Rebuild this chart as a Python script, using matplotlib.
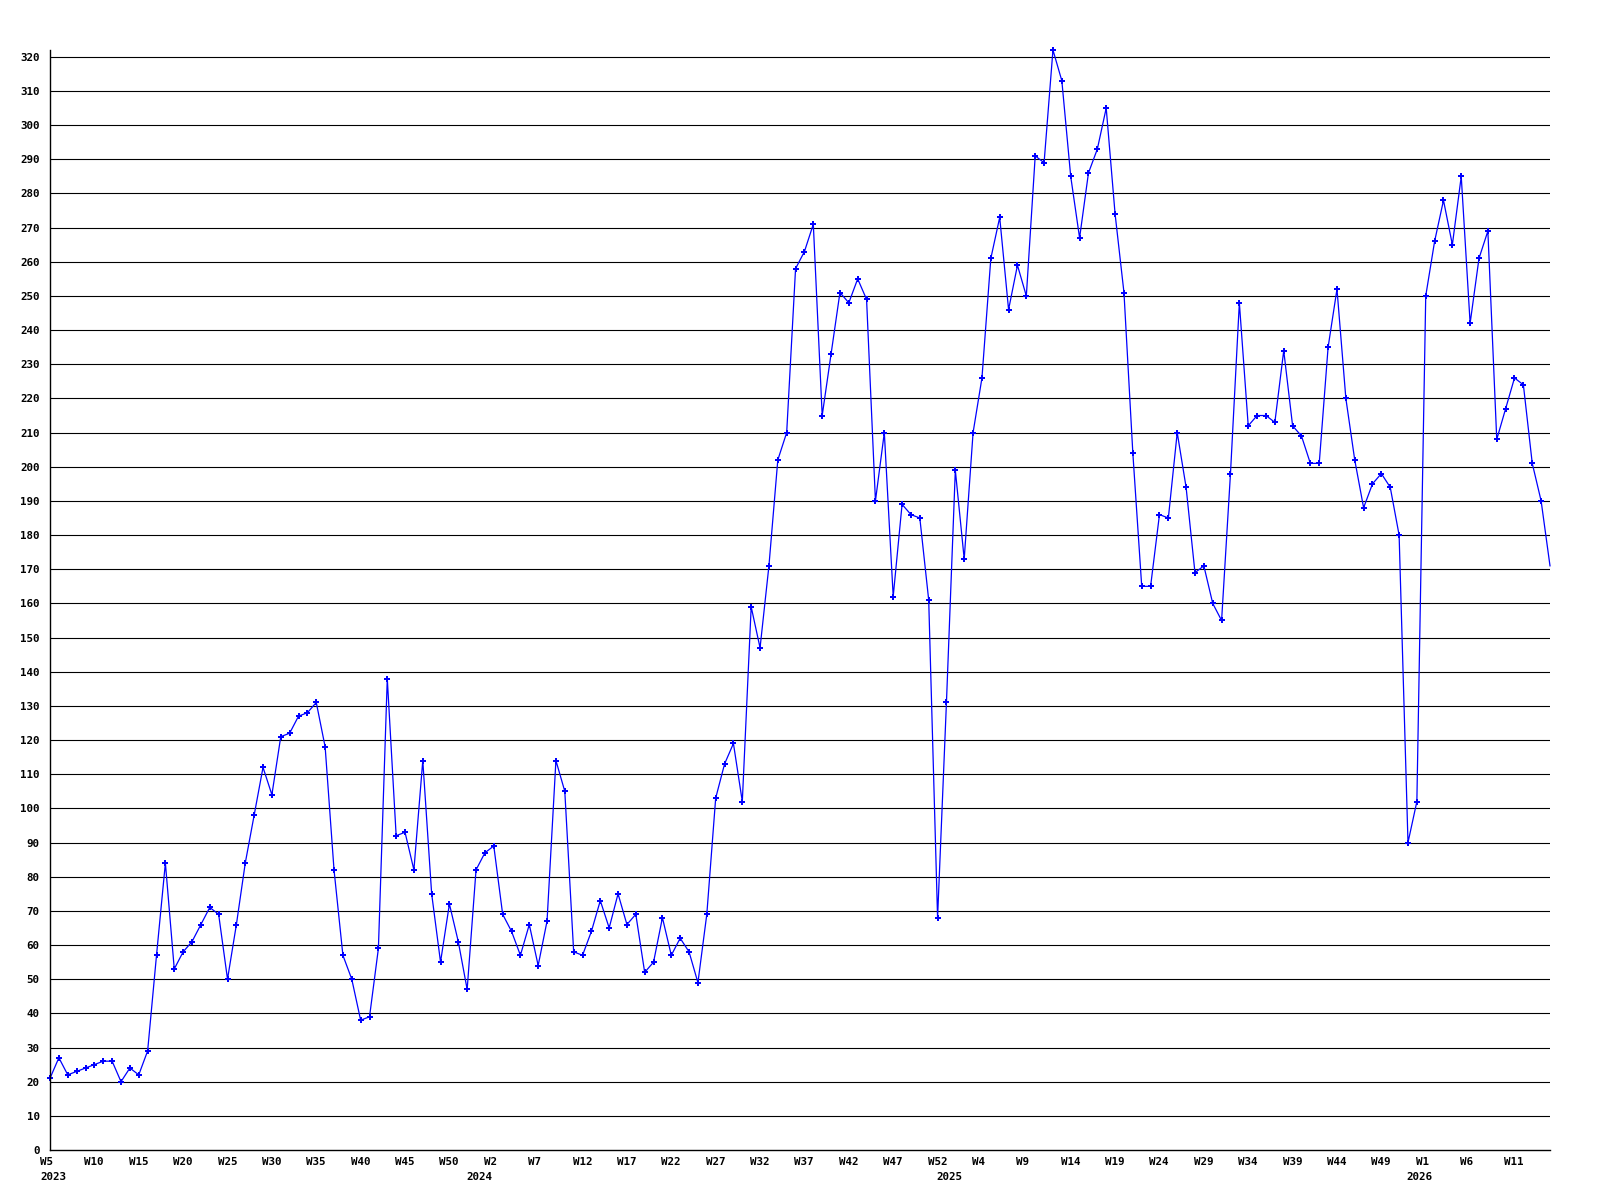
import matplotlib
matplotlib.use("Agg")
import matplotlib.pyplot as plt
import matplotlib.transforms as mtransforms
import numpy as np

# ---- data (weekly values, first point = 2023 W5) ----
values_2023a = [21, 27, 22, 23, 24, 25, 26, 26, 20, 24, 22, 29, 57, 84, 53, 58, 61, 66, 71, 69,
                50, 66, 84, 98, 112, 104, 121, 122, 127, 128]
values_2023b = [131, 118, 82, 57, 50, 38, 39, 59, 138, 92, 93, 82, 114, 75, 55, 72, 61, 47,
                82, 87, 89, 69, 64, 57, 66, 54, 67, 114]
values_2024a = [105, 58, 57, 64, 73, 65, 75, 66, 69, 52, 55, 68, 57, 62, 58, 49, 69, 103, 113, 119, 102]
values_2024b = [159, 147, 171, 202, 210, 258, 263, 271, 215, 233, 251, 248, 255, 249, 190, 210,
                162, 189, 186, 185, 161]
values_2025a = [68, 131, 199, 173, 210, 226, 261, 273, 246, 259, 250]
values_2025b = [291, 289, 322, 313, 285, 267, 286, 293, 305, 274, 251, 204, 165, 165, 186, 185,
                210, 194, 169, 171, 160, 155, 198]
values_2025c = [248, 212, 215, 215, 213, 234, 212, 209, 201, 201, 235, 252, 220, 202, 188, 195,
                198, 194, 180]
values_2026 = [90, 102, 250, 266, 278, 265, 285, 242, 261, 269, 208, 217, 226, 224, 201, 190, 171]

values = (values_2023a + values_2023b + values_2024a + values_2024b + values_2025a
          + values_2025b + values_2025c + values_2026)

week_labels = ["W5", "W10", "W15", "W20", "W25", "W30", "W35", "W40", "W45", "W50",
               "W2", "W7", "W12", "W17", "W22", "W27", "W32", "W37", "W42", "W47", "W52",
               "W4", "W9", "W14", "W19", "W24", "W29", "W34", "W39", "W44", "W49",
               "W1", "W6", "W11"]
label_every = 5
year_labels = ["2023", "2024", "2025", "2026"]
year_first_point = [0, 48, 101, 154]

y_ticks = list(range(0, 330, 10))

# ---- figure ----
W, H, DPI = 1600, 1200, 100
fig = plt.figure(figsize=(W / DPI, H / DPI), dpi=DPI, facecolor="white")
ax = fig.add_axes([50 / W, 50 / H, 1500 / W, 1100 / H])
ax.set_facecolor("white")

x = np.arange(len(values))
ax.set_xlim(0, len(values) - 1)
ax.set_ylim(0, 322)

# horizontal grid lines
for t in y_ticks[1:]:
    ax.axhline(t, color="black", lw=0.8, zorder=1)

ax.plot(x, values, color="#0000ff", lw=0.9, marker="P", ms=5, mew=0,
        markevery=list(range(len(values) - 1)), zorder=3, clip_on=False)

for s in ["top", "right"]:
    ax.spines[s].set_visible(False)
for s in ["left", "bottom"]:
    ax.spines[s].set_color("black")
    ax.spines[s].set_linewidth(1.0)
    ax.spines[s].set_zorder(4)

font = dict(family="DejaVu Sans Mono", weight="bold", size=7.8)

ax.set_yticks(y_ticks)
ax.set_yticklabels([str(t) for t in y_ticks], **font)
ax.tick_params(axis="y", length=0, pad=7.5)

ax.set_xticks([])
base = mtransforms.blended_transform_factory(ax.transData, ax.transAxes)
off_w = mtransforms.ScaledTranslation(-10 / DPI, -12 / DPI, fig.dpi_scale_trans)
off_y = mtransforms.ScaledTranslation(-10 / DPI, -27 / DPI, fig.dpi_scale_trans)
for k, lab in enumerate(week_labels):
    ax.text(k * label_every, 0, lab, transform=base + off_w, ha="left", va="center",
            clip_on=False, **font)
for pos, lab in zip(year_first_point, year_labels):
    ax.text(pos, 0, lab, transform=base + off_y, ha="left", va="center",
            clip_on=False, **font)

fig.savefig("out.png", dpi=DPI, facecolor="white")
